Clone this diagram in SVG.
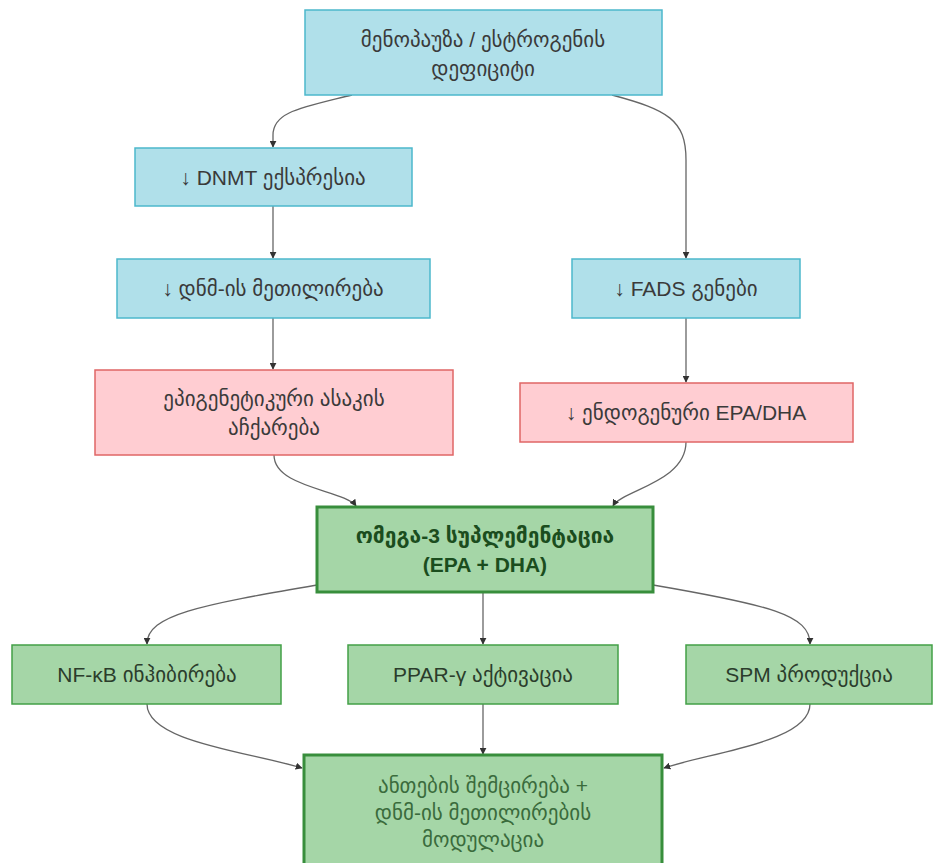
<svg xmlns="http://www.w3.org/2000/svg" width="934" height="863" viewBox="0 0 934 863">
<style>
.n text{font-family:"Liberation Sans","DejaVu Sans",sans-serif;font-size:21px;text-anchor:middle;dominant-baseline:central;fill:#3a3a3a}
.b rect{fill:#b0e0ea;stroke:#4cb8cc;stroke-width:1.5}
.r rect{fill:#ffcdd2;stroke:#e06666;stroke-width:1.5}
.g rect{fill:#a5d6a7;stroke:#43a047;stroke-width:1.5}
.gt rect{fill:#a5d6a7;stroke:#388e3c;stroke-width:3}
.gt text{font-weight:bold;fill:#1b4d1e}
.g text{fill:#2b3d2c}
#final text{font-weight:normal;fill:#3a6b3c}
.e path{fill:none;stroke:#666;stroke-width:1.3;marker-end:url(#arr)}
</style>
<defs>
<marker id="arr" viewBox="0 0 10 10" refX="9" refY="5" markerWidth="7" markerHeight="7" orient="auto" markerUnits="userSpaceOnUse">
<path d="M0,0 L10,5 L0,10 z" fill="#333"/>
</marker>
</defs>
<rect width="934" height="863" fill="#fff"/>
<g class="e" id="edges">
<path d="M352,95 C300,108 273,112 273,135 L273,147"/>
<path d="M612,95 C668,110 686,120 686,160 L686,258"/>
<path d="M273,206 L273,258"/>
<path d="M273,318 L273,369"/>
<path d="M686,318 L686,382"/>
<path d="M274,455 C274,488 345,490 356,506"/>
<path d="M686,442 C686,482 622,490 613,506"/>
<path d="M317,585 C200,605 147,615 147,644"/>
<path d="M483,592 L483,644"/>
<path d="M653,585 C770,605 810,615 810,644"/>
<path d="M147,704 C147,742 250,752 302,768"/>
<path d="M483,704 L483,754"/>
<path d="M810,704 C810,742 712,752 664,768"/>
</g>
<g class="n b" id="n1"><rect x="305" y="10" width="357" height="85"/><text x="483" y="39">მენოპაუზა / ესტროგენის</text><text x="483" y="68">დეფიციტი</text></g>
<g class="n b" id="n2"><rect x="135" y="148" width="277" height="58"/><text x="273" y="177">↓ DNMT ექსპრესია</text></g>
<g class="n b" id="n3"><rect x="117" y="259" width="313" height="59"/><text x="273" y="288">↓ დნმ-ის მეთილირება</text></g>
<g class="n b" id="n4"><rect x="572" y="259" width="228" height="59"/><text x="686" y="288">↓ FADS გენები</text></g>
<g class="n r" id="n5"><rect x="95" y="370" width="358" height="85"/><text x="274" y="398">ეპიგენეტიკური ასაკის</text><text x="274" y="427">აჩქარება</text></g>
<g class="n r" id="n6"><rect x="520" y="383" width="333" height="59"/><text x="686" y="412">↓ ენდოგენური EPA/DHA</text></g>
<g class="n gt" id="n7"><rect x="317" y="507" width="336" height="85"/><text x="485" y="535">ომეგა-3 სუპლემენტაცია</text><text x="485" y="564">(EPA + DHA)</text></g>
<g class="n g" id="n8"><rect x="12" y="645" width="269" height="59"/><text x="147" y="674">NF-κB ინჰიბირება</text></g>
<g class="n g" id="n9"><rect x="348" y="645" width="270" height="59"/><text x="483" y="674">PPAR-γ აქტივაცია</text></g>
<g class="n g" id="n10"><rect x="686" y="645" width="246" height="59"/><text x="809" y="674">SPM პროდუქცია</text></g>
<g class="n gt" id="final"><rect x="304" y="755" width="358" height="112"/><text x="483" y="785">ანთების შემცირება +</text><text x="483" y="812">დნმ-ის მეთილირების</text><text x="483" y="839">მოდულაცია</text></g>
</svg>
